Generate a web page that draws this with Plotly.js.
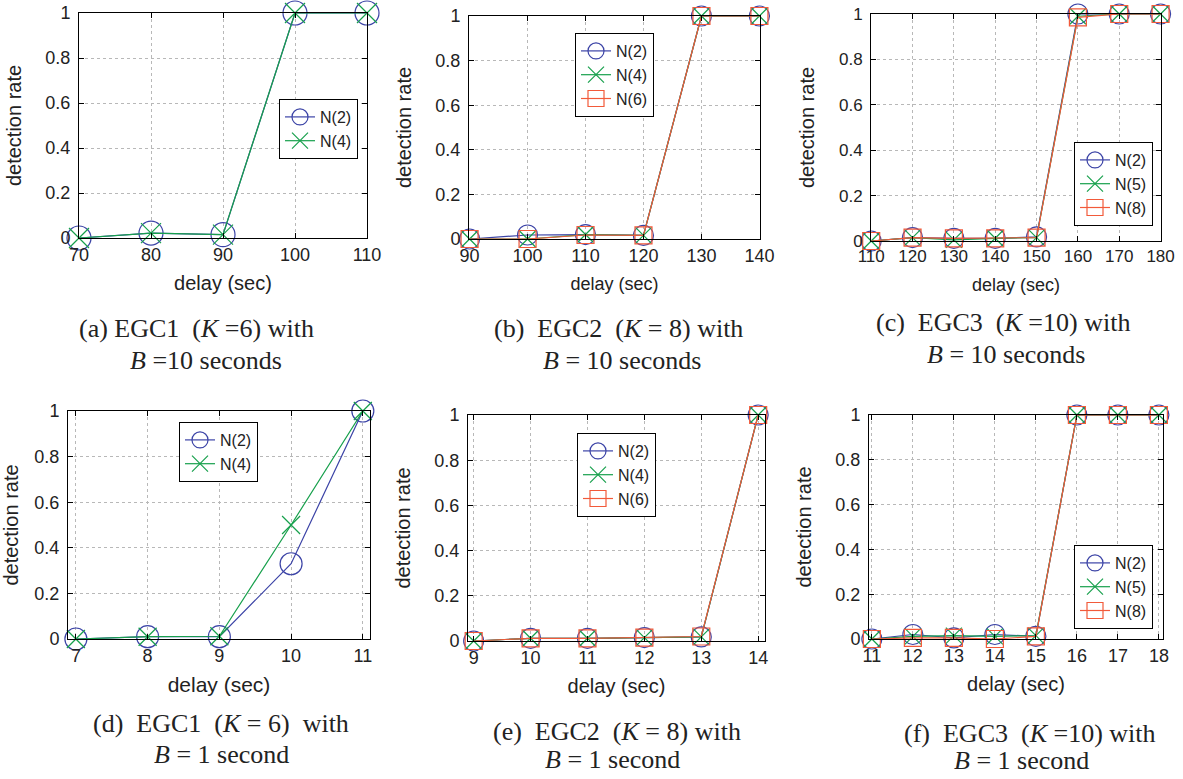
<!DOCTYPE html>
<html>
<head>
<meta charset="utf-8">
<script src="https://cdn.plot.ly/plotly-3.0.1.min.js"></script>
<style>html,body{margin:0;padding:0;background:#fff;}#chart{width:1183px;height:779px;}</style>
</head>
<body>
<div id="chart"></div>
<script>
// ---- data ----
const delayA = [70, 80, 90, 100, 110];
const rateA_N2 = [0, 0.022, 0.015, 1, 1];
const rateA_N4 = [0, 0.022, 0.015, 1, 1];

const delayB = [90, 100, 110, 120, 130, 140];
const rateB_N2 = [0, 0.018, 0.02, 0.016, 1, 1];
const rateB_N4 = [0, 0, 0.02, 0.016, 1, 1];
const rateB_N6 = [0, 0, 0.018, 0.016, 1, 1];

const delayC = [110, 120, 130, 140, 150, 160, 170, 180];
const rateC_N2 = [0, 0.015, 0.012, 0.012, 0.018, 1, 1, 1];
const rateC_N5 = [0, 0.015, 0.005, 0.012, 0.015, 0.99, 1, 1];
const rateC_N8 = [0, 0.015, 0.012, 0.012, 0.015, 0.985, 1, 1];

const delayD = [7, 8, 9, 10, 11];
const rateD_N2 = [0, 0.01, 0.01, 0.33, 1];
const rateD_N4 = [0, 0.01, 0.012, 0.5, 1];

const delayE = [9, 10, 11, 12, 13, 14];
const rateE_N2 = [0, 0.012, 0.012, 0.015, 0.018, 1];
const rateE_N4 = [0, 0.012, 0.012, 0.015, 0.018, 1];
const rateE_N6 = [0, 0.012, 0.012, 0.015, 0.02, 1];

const delayF = [11, 12, 13, 14, 15, 16, 17, 18];
const rateF_N2 = [0, 0.02, 0.005, 0.02, 0.012, 1, 1, 1];
const rateF_N5 = [0, 0.012, 0.015, 0.012, 0.015, 1, 1, 1];
const rateF_N8 = [0, 0.005, 0.005, 0, 0.012, 1, 1, 1];

const xTicksA = [70, 80, 90, 100, 110];
const xTicksB = [90, 100, 110, 120, 130, 140];
const xTicksC = [110, 120, 130, 140, 150, 160, 170, 180];
const xTicksD = [7, 8, 9, 10, 11];
const xTicksE = [9, 10, 11, 12, 13, 14];
const xTicksF = [11, 12, 13, 14, 15, 16, 17, 18];
const yTicks = [0, 0.2, 0.4, 0.6, 0.8, 1];

const xLabel = 'delay (sec)';
const yLabel = 'detection rate';

// ---- style ----
const W = 1183, H = 779;
const SANS = 'Liberation Sans, Arial, Helvetica, sans-serif';
const SERIF = 'Liberation Serif, Times New Roman, serif';
const TXT = '#222';
const BLUE = '#3b43a6', GREEN = '#17a04c', RED = '#f25a3a';

const sym = {
  circle: {symbol: 'circle-open', color: BLUE},
  x: {symbol: 'x-thin-open', color: GREEN},
  square: {symbol: 'square-open', color: RED}
};

function tr(x, y, name, kind, idx, msize) {
  const s = sym[kind];
  const sz = kind === 'circle' ? msize : (kind === 'square' ? msize - 3 : msize - 4);
  return {
    x: x, y: y, name: name, type: 'scatter', mode: 'lines+markers',
    xaxis: 'x' + (idx === 1 ? '' : idx), yaxis: 'y' + (idx === 1 ? '' : idx),
    legend: 'legend' + (idx === 1 ? '' : idx),
    line: {color: s.color, width: 1.2},
    marker: {symbol: s.symbol, size: sz, color: s.color, line: {color: s.color, width: 1.2}},
    cliponaxis: false, hoverinfo: 'x+y+name'
  };
}

const data = [
  tr(delayA, rateA_N2, 'N(2)', 'circle', 1, 24),
  tr(delayA, rateA_N4, 'N(4)', 'x', 1, 24),
  tr(delayB, rateB_N2, 'N(2)', 'circle', 2, 20),
  tr(delayB, rateB_N4, 'N(4)', 'x', 2, 20),
  tr(delayB, rateB_N6, 'N(6)', 'square', 2, 20),
  tr(delayC, rateC_N2, 'N(2)', 'circle', 3, 20),
  tr(delayC, rateC_N5, 'N(5)', 'x', 3, 20),
  tr(delayC, rateC_N8, 'N(8)', 'square', 3, 20),
  tr(delayD, rateD_N2, 'N(2)', 'circle', 4, 22),
  tr(delayD, rateD_N4, 'N(4)', 'x', 4, 22),
  tr(delayE, rateE_N2, 'N(2)', 'circle', 5, 20),
  tr(delayE, rateE_N4, 'N(4)', 'x', 5, 20),
  tr(delayE, rateE_N6, 'N(6)', 'square', 5, 20),
  tr(delayF, rateF_N2, 'N(2)', 'circle', 6, 20),
  tr(delayF, rateF_N5, 'N(5)', 'x', 6, 20),
  tr(delayF, rateF_N8, 'N(8)', 'square', 6, 20)
];

// panel geometry in pixels: [left, right, top, bottom], x range, ticks, font sizes
const panels = [
  {px: [79, 367, 13, 238], xr: [70, 110], xt: xTicksA, tf: 18, lf: 20, leg: [279, 99]},
  {px: [469, 760, 16, 239], xr: [89.9, 140.1], xt: xTicksB, tf: 18, lf: 18, leg: [575, 33]},
  {px: [871, 1161, 14, 241], xr: [109.95, 180.1], xt: xTicksC, tf: 17, lf: 18, leg: [1074, 142]},
  {px: [68, 370, 411, 639], xr: [6.89, 11.1], xt: xTicksD, tf: 18, lf: 21, leg: [179, 422]},
  {px: [468, 765, 415, 641], xr: [8.9, 14.12], xt: xTicksE, tf: 18, lf: 20, leg: [577, 433]},
  {px: [869, 1163, 415, 639], xr: [10.93, 18.1], xt: xTicksF, tf: 18, lf: 20, leg: [1074, 545]}
];

const layout = {
  width: W, height: H,
  margin: {l: 0, r: 0, t: 0, b: 0},
  paper_bgcolor: '#fff', plot_bgcolor: '#fff',
  font: {family: SANS, color: TXT},
  showlegend: true,
  annotations: []
};

panels.forEach((p, i) => {
  const n = i + 1;
  const sfx = n === 1 ? '' : String(n);
  const [l, r, t, b] = p.px;
  const common = {
    showline: true, linecolor: '#000', linewidth: 1, mirror: 'ticks',
    ticks: 'inside', ticklen: 5, tickcolor: '#000', tickwidth: 1,
    showgrid: true, gridcolor: '#b8b8b8', griddash: 'dot', gridwidth: 1,
    zeroline: false, fixedrange: true,
    tickfont: {family: SANS, size: p.tf, color: TXT}
  };
  layout['xaxis' + sfx] = Object.assign({}, common, {
    domain: [l / W, r / W], anchor: 'y' + sfx,
    range: p.xr, tickmode: 'array', tickvals: p.xt,
    ticklabelstandoff: 0,
    title: {text: xLabel, font: {family: SANS, size: p.lf, color: TXT}, standoff: 12}
  });
  layout['yaxis' + sfx] = Object.assign({}, common, {
    domain: [1 - b / H, 1 - t / H], anchor: 'x' + sfx,
    range: [0, 1], tickmode: 'array', tickvals: yTicks,
    ticklabelstandoff: 4,
    title: {text: yLabel, font: {family: SANS, size: 20, color: TXT}, standoff: 18}
  });
  layout['legend' + sfx] = {
    x: p.leg[0] / W, y: 1 - p.leg[1] / H, xanchor: 'left', yanchor: 'top',
    xref: 'paper', yref: 'paper',
    bgcolor: '#fff', bordercolor: '#000', borderwidth: 1,
    font: {family: SANS, size: 16, color: TXT},
    tracegroupgap: 0, itemwidth: 30, traceorder: 'normal'
  };
});

// sub-figure captions: [text, centre x px, centre y px]
const captionLines = [
  ['(a) EGC1 &nbsp;(<i>K</i> =6) with', 196, 328],
  ['<i>B</i> =10 seconds', 206, 360],
  ['(b) &nbsp;EGC2 &nbsp;(<i>K</i> = 8) with', 618, 328],
  ['<i>B</i> = 10 seconds', 622, 360],
  ['(c) &nbsp;EGC3 &nbsp;(<i>K</i> =10) with', 1003, 323],
  ['<i>B</i> = 10 seconds', 1006, 355],
  ['(d) &nbsp;EGC1 &nbsp;(<i>K</i> = 6) &nbsp;with', 221, 723],
  ['<i>B</i> = 1 second', 221, 754],
  ['(e) &nbsp;EGC2 &nbsp;(<i>K</i> = 8) with', 617, 731],
  ['<i>B</i> = 1 second', 612, 759],
  ['(f) &nbsp;EGC3 &nbsp;(<i>K</i> =10) with', 1030, 733],
  ['<i>B</i> = 1 second', 1021, 760]
];
captionLines.forEach(c => {
  layout.annotations.push({
    text: c[0], xref: 'paper', yref: 'paper',
    x: c[1] / W, y: 1 - c[2] / H, xanchor: 'center', yanchor: 'middle',
    showarrow: false, font: {family: SERIF, size: 26, color: TXT}
  });
});

Plotly.newPlot('chart', data, layout, {staticPlot: false, displayModeBar: false});
</script>
</body>
</html>
